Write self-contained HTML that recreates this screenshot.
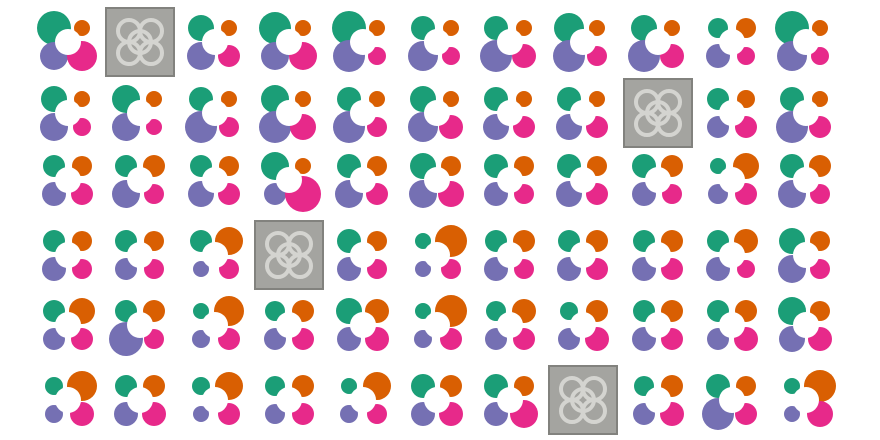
<!DOCTYPE html>
<html><head><meta charset="utf-8"><style>
html,body{margin:0;padding:0;background:#fff;width:880px;height:440px;overflow:hidden}
svg{display:block}
</style></head><body>
<svg id="chart" width="880" height="440"></svg>
<script>
const colX=[68,140,215,289,363,437,510,583,658,732,806];
const rowY=[42,113,180,255,325,400];
const greenR=[[17,0,13,16,17,12,12,15,13,10,17],[13,14,12,14,12,13,12,12,0,11,12],[11,11,11,14,12,13,12,12,12,8,12],[11,11,11,0,12,8,11,11,11,11,13],[11,11,8,10,13,8,10,9,11,11,14],[9,11,9,10,8,12,12,0,10,12,8]];
const orangeR=[[8,0,8,8,8,8,8,8,8,10,8],[8,8,8,8,8,8,8,8,0,9,8],[10,11,10,8,10,10,10,10,11,13,11],[10,10,14,0,10,16,11,11,11,12,10],[13,11,15,11,12,16,12,11,11,11,10],[15,11,14,11,14,11,10,0,11,10,16]];
const purpleR=[[14,0,14,14,16,15,16,16,16,12,15],[14,14,16,16,16,15,13,13,0,11,16],[12,14,13,11,14,14,12,13,12,10,14],[12,11,8,0,12,8,12,12,12,12,14],[11,17,9,11,12,9,11,11,12,11,13],[9,12,8,10,9,12,12,0,11,16,8]];
const pinkR=[[15,0,11,14,9,9,12,10,12,9,9],[9,8,10,13,10,12,11,11,0,11,11],[11,10,11,18,11,13,10,11,10,11,10],[10,10,10,0,10,10,10,11,11,9,10],[11,10,11,11,12,11,11,12,11,12,12],[12,12,11,11,10,12,14,0,12,11,13]];
const tiles=[[0,1],[1,8],[3,3],[5,7]];
const NS='http://www.w3.org/2000/svg';
const svg=document.getElementById('chart');
function mk(t,a){const e=document.createElementNS(NS,t);for(const k in a)e.setAttribute(k,a[k]);return e;}
const isTile=(r,c)=>tiles.some(t=>t[0]===r&&t[1]===c);
const off=14, whiteR=13;
const petals=[['green',greenR,'#1b9e77',-1,-1],['orange',orangeR,'#d95f02',1,-1],['purple',purpleR,'#7570b3',-1,1],['pink',pinkR,'#e7298a',1,1]];
for(let r=0;r<rowY.length;r++){for(let c=0;c<colX.length;c++){
  const cx=colX[c],cy=rowY[r];
  const g=mk('g',{});
  if(isTile(r,c)){
    
    
    g.appendChild(mk('rect',{x:cx-34,y:cy-34,width:68,height:68,fill:'#a4a4a0',stroke:'#82827e','stroke-width':2}));
    [[-11,-11],[11,-11],[-11,11],[11,11],[0,0]].forEach(p=>{
      g.appendChild(mk('circle',{cx:cx+p[0],cy:cy+p[1],r:11,fill:'none',stroke:'#d4d4d0','stroke-width':4}));
    });
  } else {
    
    
    petals.forEach(p=>{
      const ci=mk('circle',{cx:cx+p[3]*off,cy:cy+p[4]*off,r:p[1][r][c],fill:p[2]});
      
      
      g.appendChild(ci);
    });
    const w=mk('circle',{cx:cx,cy:cy,r:whiteR,fill:'#fff'});
    
    
    g.appendChild(w);
  }
  svg.appendChild(g);
}}
</script>
</body></html>
